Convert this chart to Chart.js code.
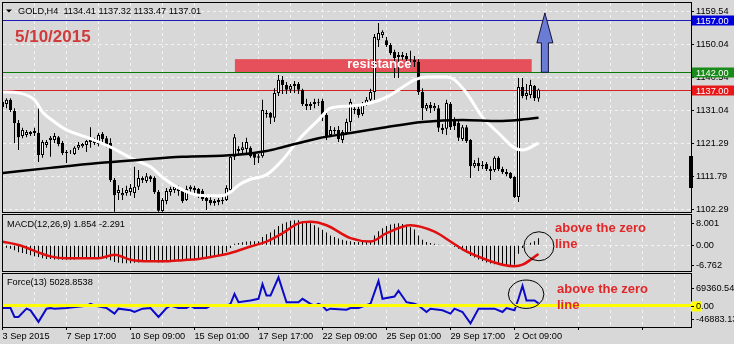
<!DOCTYPE html>
<html>
<head>
<meta charset="utf-8">
<script src="https://cdn.jsdelivr.net/npm/chart.js@4.4.0/dist/chart.umd.min.js"></script>
<style>
  html, body { margin: 0; padding: 0; background: #d8d8d8; }
  #wrap { position: relative; width: 734px; height: 344px; overflow: hidden; background: #d8d8d8; }
  canvas { position: absolute; left: 0; }
</style>
</head>
<body>
<div id="wrap">
  <canvas id="mainChart" width="734" height="214" style="top:0px"></canvas>
  <canvas id="macdChart" width="734" height="58" style="top:214px"></canvas>
  <canvas id="forceChart" width="734" height="72" style="top:272px"></canvas>
</div>
<script>
// ==================================================================
// DADOS (lidos do gráfico GOLD H4)
// ==================================================================
const dateLabels = ['3 Sep 2015', '7 Sep 17:00', '10 Sep 09:00', '15 Sep 01:00', '17 Sep 17:00',
  '22 Sep 09:00', '25 Sep 01:00', '29 Sep 17:00', '2 Oct 09:00'];

const opens = [1133.4,1132.8,1134.0,1130.8,1127.3,1123.5,1123.8,1124.1,1124.4,1124.4,
  1118.0,1120.9,1122.4,1122.4,1123.2,1121.5,1118.6,1118.9,1118.3,1120.1,
  1120.6,1120.9,1121.8,1121.5,1121.2,1124.1,1122.9,1121.5,1110.8,1107.0,
  1106.4,1107.0,1107.3,1107.0,1108.8,1110.8,1110.5,1111.9,1111.4,1107.3,
  1101.8,1104.7,1107.3,1107.9,1108.5,1107.6,1105.0,1108.2,1108.5,1108.2,
  1107.6,1105.6,1105.0,1104.1,1104.4,1105.0,1105.0,1107.9,1117.5,1119.2,
  1119.5,1119.8,1120.1,1118.3,1117.2,1117.7,1129.9,1130.2,1128.8,1136.0,
  1139.8,1138.3,1136.9,1138.0,1138.6,1136.9,1132.8,1132.2,1132.8,1133.4,
  1133.7,1129.6,1123.8,1125.3,1125.3,1122.4,1124.4,1127.6,1131.1,1131.4,
  1129.9,1132.8,1134.0,1136.3,1151.3,1152.8,1151.3,1149.9,1147.9,1146.4,
  1147.0,1146.7,1145.8,1145.6,1145.0,1136.3,1131.4,1132.5,1131.6,1131.6,
  1125.9,1125.6,1132.8,1127.9,1127.3,1122.7,1126.1,1122.4,1114.8,1115.7,
  1114.8,1115.4,1114.0,1113.7,1117.2,1114.0,1113.1,1112.8,1111.7,1105.9,
  1137.7,1135.1,1135.4,1138.0,1134.41];
const highs = [1134.0,1134.5,1134.5,1131.6,1128.2,1125.9,1125.3,1125.0,1125.9,1131.9,
  1122.4,1122.4,1123.5,1124.4,1123.5,1122.1,1119.5,1119.5,1120.6,1121.8,
  1121.5,1122.4,1126.1,1123.0,1124.4,1124.7,1123.5,1122.9,1111.4,1109.3,
  1108.5,1109.1,1109.6,1114.6,1113.7,1111.9,1112.8,1112.2,1111.9,1107.9,
  1105.6,1108.5,1108.8,1109.3,1109.1,1107.9,1109.1,1109.3,1109.1,1108.5,
  1108.2,1106.7,1106.2,1105.3,1105.6,1105.9,1109.3,1118.0,1124.1,1120.6,
  1121.8,1123.0,1120.6,1118.9,1118.3,1134.0,1131.1,1130.5,1137.4,1141.2,
  1140.9,1139.2,1138.6,1139.5,1139.2,1137.2,1134.3,1133.4,1134.3,1134.3,
  1134.3,1130.2,1126.4,1126.1,1126.4,1125.3,1128.5,1134.3,1132.2,1132.2,
  1133.4,1134.8,1137.2,1153.1,1156.3,1154.2,1152.2,1150.5,1148.5,1147.9,
  1147.9,1147.6,1148.2,1146.7,1145.8,1137.4,1133.1,1133.4,1133.1,1132.5,
  1127.0,1134.0,1133.4,1129.0,1127.9,1126.7,1126.7,1122.7,1116.6,1117.2,
  1116.3,1116.0,1114.8,1117.7,1117.7,1114.6,1114.0,1113.1,1111.9,1140.3,
  1140.3,1138.6,1139.8,1138.3,1137.32];
const lows = [1131.1,1131.6,1130.5,1121.5,1119.5,1122.9,1123.2,1123.5,1123.5,1116.0,
  1117.2,1120.1,1117.5,1121.5,1120.6,1118.0,1115.7,1118.3,1118.0,1119.5,
  1120.1,1118.9,1120.1,1120.9,1120.6,1121.8,1120.3,1110.2,1101.6,1105.0,
  1105.0,1106.2,1106.2,1105.6,1107.9,1109.9,1109.9,1110.2,1106.7,1101.6,
  1101.6,1103.8,1106.2,1107.0,1106.2,1104.1,1104.7,1107.3,1106.7,1105.6,
  1104.7,1102.1,1103.5,1103.3,1103.5,1103.8,1104.7,1107.0,1116.6,1118.3,
  1118.6,1118.6,1117.2,1115.1,1115.7,1117.2,1128.8,1127.0,1127.6,1135.1,
  1135.7,1135.7,1136.0,1136.0,1135.7,1132.2,1131.1,1131.1,1131.6,1132.2,
  1127.9,1122.4,1123.2,1124.1,1121.8,1121.5,1123.8,1125.0,1129.9,1128.8,
  1129.3,1132.2,1133.7,1134.0,1149.3,1151.9,1149.3,1147.0,1140.3,1140.3,
  1145.6,1145.3,1143.5,1143.5,1135.4,1128.2,1130.8,1130.2,1130.8,1124.7,
  1124.1,1123.8,1125.3,1125.3,1122.1,1122.1,1121.5,1111.4,1114.3,1113.4,
  1114.0,1113.4,1110.8,1113.1,1113.4,1112.5,1111.9,1111.1,1105.6,1104.4,
  1134.5,1134.0,1134.5,1133.7,1133.47];
const closes = [1131.9,1134.0,1131.1,1127.3,1123.2,1125.3,1124.7,1124.7,1125.0,1118.0,
  1121.8,1121.8,1123.0,1123.5,1121.2,1118.6,1118.9,1119.0,1120.1,1120.9,
  1121.2,1122.1,1122.4,1122.4,1123.8,1122.7,1120.9,1110.8,1106.4,1107.9,
  1107.0,1107.9,1108.5,1108.8,1111.4,1111.4,1111.9,1111.1,1107.3,1101.9,
  1105.0,1107.6,1108.2,1108.8,1107.6,1104.7,1108.2,1108.8,1107.9,1106.2,
  1105.3,1104.7,1104.1,1104.7,1105.0,1104.7,1108.5,1117.5,1123.2,1119.8,
  1120.3,1121.8,1117.7,1117.2,1117.7,1131.1,1130.2,1128.8,1136.0,1139.8,
  1138.3,1136.9,1138.0,1138.6,1136.9,1132.8,1132.2,1132.8,1133.4,1133.2,
  1129.6,1123.5,1125.3,1125.0,1122.7,1124.7,1127.6,1133.4,1131.4,1129.6,
  1132.8,1134.0,1136.3,1152.2,1153.4,1153.7,1149.9,1147.6,1146.1,1147.0,
  1146.4,1145.8,1145.6,1145.0,1136.3,1131.6,1132.5,1131.6,1132.2,1125.9,
  1125.3,1133.1,1126.1,1126.4,1123.0,1126.1,1122.1,1114.8,1115.7,1114.8,
  1115.1,1114.0,1113.4,1117.2,1114.0,1113.1,1112.5,1111.4,1105.9,1137.7,
  1135.1,1136.0,1138.3,1134.5,1137.01];

// médias móveis (índice da barra / preço)
const fastMaIdx = [0, 4, 8, 10, 13, 16, 21, 27, 33, 37, 40, 44, 49, 55, 57, 59, 62, 66, 70, 74, 79, 82, 87, 92, 96, 99, 103, 106, 111, 113, 116, 120, 124, 128, 130, 134];
const fastMaVal = [1136.3, 1136.0, 1134.0, 1130.5, 1127.6, 1125.3, 1123.2, 1120.3, 1116.6, 1114.6, 1111.6, 1108.5, 1106.4, 1106.2, 1107.3, 1109.3, 1111.0, 1112.3, 1116.6, 1122.4, 1128.2, 1131.6, 1132.2, 1133.1, 1134.8, 1136.9, 1139.8, 1140.6, 1140.6, 1139.8, 1136.0, 1129.0, 1124.4, 1120.1, 1119.5, 1121.5];
const slowMaIdx = [0, 12, 24, 34, 45, 58, 66, 70, 79, 87, 95, 105, 115, 124, 129, 134];
const slowMaVal = [1112.8, 1114.3, 1115.7, 1116.6, 1117.5, 1118.0, 1119.2, 1120.3, 1122.9, 1124.4, 1125.9, 1127.6, 1128.2, 1127.9, 1128.2, 1128.8];

const priceTicks = [1159.54, 1150.04, 1140.54, 1131.04, 1121.29, 1111.79, 1102.29];
const levelValues = [1157.00, 1142.00, 1137.00];

// zona de resistência e seta
const zoneFrom = 58.1, zoneTo = 132.3, zoneLow = 1142.0, zoneHigh = 1145.8;
const arrowAt = 135.6, arrowFrom = 1142.0, arrowHeadAt = 1150.5, arrowTo = 1159.2;

// MACD(12,26,9)
const macdHist = [-0.2,-0.6,-0.9,-1.3,-1.8,-2.0,-2.3,-2.6,-2.9,-3.1,-3.4,-3.6,
  -3.6,-3.7,-3.7,-3.8,-3.8,-3.8,-3.7,-3.6,-3.6,-3.6,-3.6,-3.5,-3.5,-3.4,-3.5,
  -3.9,-4.4,-4.6,-4.7,-4.7,-4.7,-4.6,-4.5,
  -4.4,-4.4,-4.3,-4.4,-4.5,-4.5,-4.3,-4.2,-4.0,-3.9,-3.9,-3.8,-3.7,-3.6,-3.5,-3.4,-3.4,-3.2,-3.1,-2.9,-2.8,
  -1.7,-0.7,0.4,0.6,0.8,1.0,1.1,1.1,1.1,
  2.2,2.9,3.4,4.2,5.1,5.7,6.1,6.5,6.6,6.6,6.4,6.1,5.8,5.3,4.7,4.1,3.4,2.6,2.2,1.8,1.5,1.2,1.1,0.9,0.9,0.9,0.9,1.2,
  2.6,3.7,4.5,5.1,5.5,5.7,5.8,5.6,5.3,4.8,4.2,2.6,1.5,0.9,0.6,0.4,0.2,0.15,0.15,0.1,
  -0.4,-0.9,-1.3,-1.9,-2.8,-3.2,-3.7,-4.1,-4.5,-4.8,-5.0,-5.1,-5.2,-5.3,-5.3,-5.1,-2.2,-0.7,0.2,0.7,1.1,1.854];
const signalIdx = [0, 4, 12, 16, 24, 28, 32, 37, 41, 45, 49, 53, 57, 62, 66, 70, 74, 77, 81, 87, 92, 96, 102, 108, 112, 116, 121, 125, 128, 130, 134];
const signalVal = [1.0, 0.1, -2.9, -3.4, -3.4, -2.5, -3.8, -4.2, -4.2, -3.9, -3.6, -2.9, -2.0, -0.3, 1.0, 3.2, 5.8, 6.2, 5.3, 1.9, 1.0, 3.2, 5.3, 3.6, 1.0, -1.6, -3.8, -5.1, -5.5, -5.1, -2.291];
const macdAxisValues = [8.001, 0, -6.762];

// Force(13)
const forceIdx = [0,2,3,4,6,7,9,11,12,13,16,21,22,23,26,28,29,32,33,35,37,39,41,42,44,46,47,48,51,52,56,57,58,59,62,64,65,66,67,69,71,74,75,77,78,79,80,81,82,86,87,89,92,94,95,98,99,101,103,104,106,107,110,112,113,115,117,119,123,125,126,128,129,130,131,133,134];
const forceVal = [-5300,-5300,-24800,-24800,-6700,-10300,-35500,-6700,-5300,-6700,-5300,-500,4000,300,-5300,-17400,-6700,-10300,-14000,-6700,-5300,-24800,-5300,0,-5300,-5300,0,-5300,-5300,0,0,4000,25600,7500,11200,14900,47100,22000,22000,62000,7500,7500,14900,4000,0,4000,0,-10300,-6700,-8800,-5300,-5300,4000,54300,14900,19800,32700,7500,4000,400,-14000,-6700,-10300,-17400,-6700,-14000,-39000,-6700,-6700,-14000,-5300,-10300,15000,43500,11200,11200,5028.85];
const forceAxisValues = [69360.54, 0, -46883.13];
const forceLevel = 0;

// ==================================================================
// ESTILO E ESCALAS
// ==================================================================
const FONT = '"Liberation Sans", Arial, sans-serif';
const GRID = '#f2f2f2';
const levelColors = ['#1c1cb4', '#0a7a0a', '#d42020'];
const levelBoxColors = ['#0000d8', '#1a8a1a', '#e81818'];
Chart.defaults.font.family = FONT;
Chart.defaults.font.size = 9.2;
Chart.defaults.color = '#000';

const BAR_PX = 4;
const X_MIN = 0.125, X_MAX = X_MIN + 688 / BAR_PX;
const gridIdx = [];
for (let i = 0; i <= 168; i += 8) gridIdx.push(i);

function xScale(showLabels) {
    return {
        type: 'linear', min: X_MIN, max: X_MAX, offset: false, bounds: 'data',
        afterBuildTicks: s => { s.ticks = gridIdx.map(v => ({ value: v })); },
        afterFit: s => {
            if (!showLabels) s.height = 0; else s.height = 17;
            s.paddingLeft = 0; s.paddingRight = 0;
        },
        ticks: {
            display: showLabels, autoSkip: false, maxRotation: 0, minRotation: 0, align: 'start', padding: 1,
            callback: v => (v % 16 === 0 && dateLabels[v / 16]) ? dateLabels[v / 16] : ''
        },
        grid: {
            color: GRID, offset: false, drawTicks: showLabels, tickLength: 3,
            tickColor: c => (c.tick && c.tick.value % 16 === 0) ? '#000' : 'rgba(0,0,0,0)'
        },
        border: { display: false, dash: [3, 3] }
    };
}
function fixAxis(s) { s.width = 43; s.paddingTop = 0; s.paddingBottom = 0; }

function frame(ctx, a) {
    ctx.save();
    ctx.strokeStyle = '#000'; ctx.lineWidth = 1;
    ctx.strokeRect(a.left - 0.5, a.top - 0.5, a.right - a.left + 1, a.bottom - a.top + 1);
    ctx.restore();
}

const baseOptions = {
    responsive: false, animation: false, events: [],
    plugins: { legend: { display: false }, tooltip: { enabled: false } }
};

// ==================================================================
// 1. GRÁFICO PRINCIPAL (velas)
// ==================================================================
const barIdx = opens.map((_, i) => i);

const mainDecor = {
    id: 'mainDecor',
    beforeDatasetsDraw(chart) {
        const { ctx, chartArea: a, scales: { x, y } } = chart;
        ctx.save();
        ctx.beginPath(); ctx.rect(a.left, a.top, a.right - a.left, a.bottom - a.top); ctx.clip();
        const zx1 = x.getPixelForValue(zoneFrom), zx2 = x.getPixelForValue(zoneTo);
        const zy1 = y.getPixelForValue(zoneHigh), zy2 = y.getPixelForValue(zoneLow);
        ctx.fillStyle = '#e6505a';
        ctx.fillRect(zx1, zy1, zx2 - zx1, zy2 - zy1);
        levelValues.forEach((v, k) => {
            const py = Math.round(y.getPixelForValue(v)) + 0.5;
            ctx.strokeStyle = levelColors[k]; ctx.lineWidth = 1;
            ctx.beginPath(); ctx.moveTo(a.left, py); ctx.lineTo(a.right, py); ctx.stroke();
        });
        ctx.restore();
    },
    afterDatasetsDraw(chart) {
        const { ctx, scales: { x, y } } = chart;
        const zx1 = x.getPixelForValue(zoneFrom), zx2 = x.getPixelForValue(zoneTo);
        const zy2 = y.getPixelForValue(zoneLow);
        ctx.save();
        ctx.font = 'bold 13px ' + FONT; ctx.fillStyle = '#ffffff';
        ctx.textAlign = 'center'; ctx.textBaseline = 'alphabetic';
        ctx.fillText('resistance', (zx1 + zx2) / 2 - 4, zy2 - 4.2);

        // seta azul
        const ax = x.getPixelForValue(arrowAt);
        const ab = y.getPixelForValue(arrowFrom), ah = y.getPixelForValue(arrowHeadAt), at = y.getPixelForValue(arrowTo);
        ctx.beginPath();
        ctx.moveTo(ax - 3.5, ab); ctx.lineTo(ax - 3.5, ah); ctx.lineTo(ax - 8, ah);
        ctx.lineTo(ax, at); ctx.lineTo(ax + 8, ah); ctx.lineTo(ax + 3.5, ah); ctx.lineTo(ax + 3.5, ab);
        ctx.closePath();
        ctx.fillStyle = '#6a7cd4'; ctx.fill();
        ctx.strokeStyle = '#14143a'; ctx.lineWidth = 1; ctx.stroke();
        ctx.restore();
    },
    afterDraw(chart) {
        const { ctx, chartArea: a, scales: { y } } = chart;
        frame(ctx, a);
        ctx.save();
        // etiquetas de preço nas linhas
        ctx.font = '9.2px ' + FONT; ctx.textBaseline = 'middle'; ctx.textAlign = 'left';
        levelValues.forEach((v, k) => {
            const py = Math.round(y.getPixelForValue(v)) + 0.5;
            ctx.fillStyle = levelBoxColors[k];
            ctx.fillRect(a.right + 1, py - 5, 734 - a.right - 1, 10);
            ctx.fillStyle = '#ffffff';
            ctx.fillText(v.toFixed(2), a.right + 5, py + 0.5);
        });
        // marcador preto no eixo
        ctx.fillStyle = '#000';
        ctx.fillRect(689, 156, 4, 32);
        // título
        ctx.beginPath(); ctx.moveTo(6, 9.5); ctx.lineTo(12, 9.5); ctx.lineTo(9, 12.5); ctx.closePath(); ctx.fill();
        ctx.fillText('GOLD,H4  1134.41 1137.32 1133.47 1137.01', 18, 11);
        // data
        ctx.font = 'bold 17px ' + FONT; ctx.fillStyle = '#d03a3a'; ctx.textBaseline = 'alphabetic';
        ctx.fillText('5/10/2015', 15, 41.5);
        ctx.restore();
    }
};

new Chart(document.getElementById('mainChart'), {
    type: 'bar',
    data: {
        datasets: [
            { type: 'line', label: 'MA lenta', data: slowMaIdx.map((x, k) => ({ x, y: slowMaVal[k] })),
              borderColor: '#000000', borderWidth: 2.5, pointRadius: 0, cubicInterpolationMode: 'monotone', order: 0 },
            { type: 'line', label: 'MA rápida', data: fastMaIdx.map((x, k) => ({ x, y: fastMaVal[k] })),
              borderColor: '#ffffff', borderWidth: 3, pointRadius: 0, cubicInterpolationMode: 'monotone', order: 1 },
            { label: 'corpos', data: barIdx.map(i => ({ x: i, y: [opens[i], closes[i]] })),
              backgroundColor: barIdx.map(i => closes[i] >= opens[i] ? '#ffffff' : '#000000'),
              borderColor: '#000000', borderWidth: 1, borderSkipped: false, barThickness: 3,
              grouped: false, inflateAmount: 0, order: 2 },
            { label: 'pavios', data: barIdx.map(i => ({ x: i, y: [lows[i], highs[i]] })),
              backgroundColor: '#000000', borderWidth: 0, barThickness: 1,
              grouped: false, inflateAmount: 0, order: 3 }
        ]
    },
    options: Object.assign({}, baseOptions, {
        layout: { padding: { left: 3, right: 0, top: 3, bottom: 2 } },
        scales: {
            x: xScale(false),
            y: {
                position: 'right', min: 1101.52, max: 1162.06, bounds: 'data', beginAtZero: false,
                afterBuildTicks: s => { s.ticks = priceTicks.map(v => ({ value: v })); },
                afterFit: fixAxis,
                ticks: { padding: 2, autoSkip: false, callback: v => v.toFixed(2) },
                grid: { color: GRID, tickColor: '#000', tickLength: 3 },
                border: { display: false, dash: [3, 3] }
            }
        }
    }),
    plugins: [mainDecor]
});

// ==================================================================
// 2. PAINÉIS DE INDICADORES
// ==================================================================
function paneDecor(cfg) {
    return {
        id: 'paneDecor',
        afterDatasetsDraw(chart) {
            if (!cfg.level) return;
            const { ctx, chartArea: a, scales: { y } } = chart;
            const py = y.getPixelForValue(cfg.level.value);
            ctx.save();
            ctx.strokeStyle = cfg.level.color; ctx.lineWidth = 3;
            ctx.beginPath(); ctx.moveTo(a.left, py); ctx.lineTo(a.right, py); ctx.stroke();
            ctx.restore();
        },
        afterDraw(chart) {
            const { ctx, chartArea: a, scales: { x, y } } = chart;
            frame(ctx, a);
            ctx.save();
            ctx.font = '9.2px ' + FONT; ctx.textBaseline = 'middle'; ctx.textAlign = 'left'; ctx.fillStyle = '#000';
            ctx.fillText(cfg.title, 7, a.top + cfg.titleDy);
            // rótulos do eixo
            cfg.values.forEach((v, k) => {
                let py = y.getPixelForValue(v);
                py = Math.min(Math.max(py, a.top + cfg.topInset), a.bottom - cfg.botInset);
                py = Math.round(py) + 0.5;
                if (v === 0 && cfg.zeroMark) {
                    ctx.fillStyle = cfg.zeroMark;
                    ctx.fillRect(a.right, py - 5, 11, 10);
                }
                ctx.strokeStyle = '#000'; ctx.lineWidth = 1;
                ctx.beginPath(); ctx.moveTo(a.right, py); ctx.lineTo(a.right + 3, py); ctx.stroke();
                ctx.fillStyle = '#000';
                ctx.fillText(cfg.texts[k], a.right + 5, py);
            });
            // círculo e anotação
            const c = cfg.circle;
            ctx.strokeStyle = '#000'; ctx.lineWidth = 1;
            ctx.beginPath();
            ctx.ellipse(x.getPixelForValue(c.at), y.getPixelForValue(c.value), c.rx, c.ry, 0, 0, Math.PI * 2);
            ctx.stroke();
            ctx.font = 'bold 13px ' + FONT; ctx.fillStyle = '#e02828'; ctx.textBaseline = 'alphabetic';
            ctx.fillText('above the zero', cfg.noteX, cfg.noteY);
            ctx.fillText('line', cfg.noteX, cfg.noteY + cfg.noteGap);
            ctx.restore();
        }
    };
}

new Chart(document.getElementById('macdChart'), {
    type: 'bar',
    data: {
        datasets: [
            { type: 'line', label: 'Sinal', data: signalIdx.map((x, k) => ({ x, y: signalVal[k] })),
              borderColor: '#e01010', borderWidth: 2.5, pointRadius: 0, cubicInterpolationMode: 'monotone', order: 0 },
            { label: 'MACD', data: macdHist.map((v, i) => ({ x: i, y: v })),
              backgroundColor: '#000000', borderWidth: 0, barThickness: 1, grouped: false, inflateAmount: 0, order: 1 }
        ]
    },
    options: Object.assign({}, baseOptions, {
        layout: { padding: { left: 3, right: 0, top: 1, bottom: 1 } },
        scales: {
            x: xScale(false),
            y: {
                position: 'right', min: -6.762, max: 8.001, bounds: 'data', beginAtZero: false,
                afterBuildTicks: s => { s.ticks = [{ value: 0 }]; },
                afterFit: fixAxis,
                ticks: { display: false },
                grid: { color: GRID, drawTicks: false },
                border: { display: false, dash: [3, 3] }
            }
        }
    }),
    plugins: [paneDecor({
        title: 'MACD(12,26,9) 1.854 -2.291', titleDy: 9.5,
        values: macdAxisValues, texts: ['8.001', '0.00', '-6.762'], topInset: 8, botInset: 6,
        circle: { at: 134.1, value: -0.24, rx: 15, ry: 14.5 },
        noteX: 555, noteY: 17.7, noteGap: 16.6
    })]
});

new Chart(document.getElementById('forceChart'), {
    type: 'line',
    data: {
        datasets: [
            { label: 'Force', data: forceIdx.map((x, k) => ({ x, y: forceVal[k] })),
              borderColor: '#0a0ac8', borderWidth: 2, pointRadius: 0, tension: 0 }
        ]
    },
    options: Object.assign({}, baseOptions, {
        layout: { padding: { left: 3, right: 0, top: 2, bottom: 0 } },
        scales: {
            x: xScale(true),
            y: {
                position: 'right', min: -46883.13, max: 69360.54, bounds: 'data',
                afterFit: fixAxis,
                ticks: { display: false },
                grid: { display: false },
                border: { display: false }
            }
        }
    }),
    plugins: [paneDecor({
        title: 'Force(13) 5028.8538', titleDy: 8.5,
        values: forceAxisValues, texts: ['69360.54', '0.00', '-46883.13'], topInset: 14, botInset: 8,
        zeroMark: '#ffff00',
        level: { value: forceLevel, color: '#ffff00' },
        circle: { at: 130.9, value: 25000, rx: 17.8, ry: 14.2 },
        noteX: 557, noteY: 21.3, noteGap: 16
    })]
});
</script>
</body>
</html>
